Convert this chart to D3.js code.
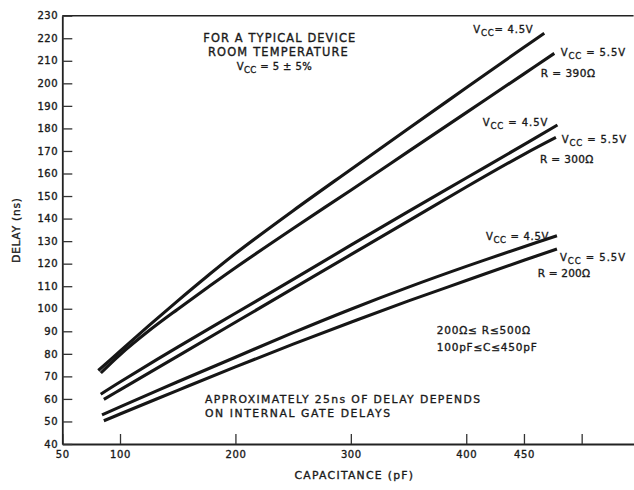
<!DOCTYPE html>
<html>
<head>
<meta charset="utf-8">
<script src="https://cdnjs.cloudflare.com/ajax/libs/d3/7.8.5/d3.min.js"></script>
<style>
body{margin:0;background:#fff;}
svg text{font-family:"DejaVu Sans",sans-serif;fill:#1a1a1a;stroke:#1a1a1a;stroke-width:0.35px;}
</style>
</head>
<body>
<script>
// capacitance (pF) -> delay (ns)
const r390v45=[[81.2,72.6],[100,81.2],[125,92.5],[150,103.5],[175,114.2],[200,124.5],[250,143.5],[300,161.8],[350,180],[400,198],[450,216],[467.6,222.2]];
const r390v55=[[83.4,71.5],[100,79.6],[125,90.2],[150,99.8],[175,109.1],[200,118.2],[250,135.6],[300,152.6],[350,169.8],[400,187],[450,204.2],[476.3,213.3]];
const r300v45=[[83.3,62.1],[100,67.5],[150,83],[200,98],[250,113],[300,128.2],[350,143.2],[400,158],[450,172.8],[479,181.5]];
const r300v55=[[86,59.8],[100,64],[150,79],[200,94],[250,109],[300,124],[350,139],[400,154],[450,168.5],[477.7,176]];
const r200v45=[[84.4,52.9],[100,56.5],[150,67.6],[200,78.5],[250,89.4],[300,99.8],[350,109.6],[400,118.8],[450,127.5],[478.6,132.4]];
const r200v55=[[86,50.3],[100,53.3],[150,63.8],[200,74.2],[250,84.3],[300,94],[350,103.5],[400,112.5],[450,121.5],[478.6,126.5]];

const xTicks=[50,100,200,300,400,450,500];
const xTickLabels=["50","100","200","300","400","450",""];
const yTicks=d3.range(40,231,10);

const W=634,H=490;
const x=d3.scaleLinear().domain([50,545]).range([62.3,633.6]);
const y=d3.scaleLinear().domain([40,230]).range([444,15.7]);

const svg=d3.select("body").append("svg")
  .attr("width",W).attr("height",H);

// top border
svg.append("line")
  .attr("x1",x(50)).attr("x2",x(545))
  .attr("y1",y(230)).attr("y2",y(230))
  .attr("stroke","#222").attr("stroke-width",1.6);

const xAxis=d3.axisBottom(x).tickValues(xTicks)
  .tickFormat((d,i)=>xTickLabels[i])
  .tickSizeInner(-10).tickSizeOuter(0).tickPadding(7);
const yAxis=d3.axisLeft(y).tickValues(yTicks)
  .tickSizeInner(-10).tickSizeOuter(0).tickPadding(4);

const gx=svg.append("g").attr("transform",`translate(0,${y(40)})`).call(xAxis);
const gy=svg.append("g").attr("transform",`translate(${x(50)},0)`).call(yAxis);
[gx,gy].forEach(g=>{
  g.select(".domain").attr("stroke","#222").attr("stroke-width",1.8);
  g.selectAll(".tick line").attr("stroke","#333").attr("stroke-width",1.3);
  g.selectAll(".tick text").attr("font-size",10).attr("letter-spacing",0.6)
   .attr("fill","#1a1a1a").style("font-family","DejaVu Sans");
});

const line=d3.line().x(d=>x(d[0])).y(d=>y(d[1])).curve(d3.curveCatmullRom.alpha(0.5));
[r390v45,r390v55,r300v45,r300v55,r200v45,r200v55].forEach(s=>{
  svg.append("path").datum(s).attr("d",line)
    .attr("fill","none").attr("stroke","#161616")
    .attr("stroke-width",3.1).attr("stroke-linecap","butt");
});

// plain texts
function txt(s,xp,yp,size,len,anchor){
  const t=svg.append("text").attr("x",xp).attr("y",yp)
    .attr("font-size",size).attr("text-anchor",anchor||"start").text(s);
  if(len) t.attr("textLength",len).attr("lengthAdjust","spacing");
  return t;
}
// Vcc labels with subscript
function vcc(rest,xp,yp,len){
  const t=svg.append("text").attr("x",xp).attr("y",yp).attr("font-size",10);
  t.append("tspan").text("V");
  t.append("tspan").attr("font-size",8.5).attr("dy",3).text("CC");
  t.append("tspan").attr("dy",-3).text(rest);
  if(len) t.attr("textLength",len).attr("lengthAdjust","spacing");
  return t;
}

txt("FOR A TYPICAL DEVICE",203.3,41.7,11.4,152);
txt("ROOM TEMPERATURE",208,55.5,11.4,139.7);
vcc(" = 5 ± 5%",236.7,70,75);

vcc("= 4.5V",473.3,33,59.4);
vcc(" = 5.5V",560.7,56,64.3);
txt("R = 390Ω",540.7,77.3,10.5,54.3);
vcc(" = 4.5V",482.7,126,64.6);
vcc(" = 5.5V",561.7,143.3,64.3);
txt("R = 300Ω",540,163.3,10.5,53.3);
vcc(" = 4.5V",486,240,62.3);
vcc(" = 5.5V",560,260.7,65);
txt("R = 200Ω",537.7,277.3,10.5,52.3);

txt("200Ω≤ R≤500Ω",436.7,334,10.5,93.3);
txt("100pF≤C≤450pF",436.7,350.7,10.5,100);

txt("APPROXIMATELY 25ns OF DELAY DEPENDS",205,403.3,10.8,275);
txt("ON INTERNAL GATE DELAYS",205,417.3,10.8,185);

txt("CAPACITANCE (pF)",294.5,478.5,10.8,118.5);
svg.append("text")
  .attr("transform","translate(20,230) rotate(-90)")
  .attr("text-anchor","middle").attr("font-size",10.5)
  .attr("letter-spacing",0.8).text("DELAY (ns)");
</script>
</body>
</html>
